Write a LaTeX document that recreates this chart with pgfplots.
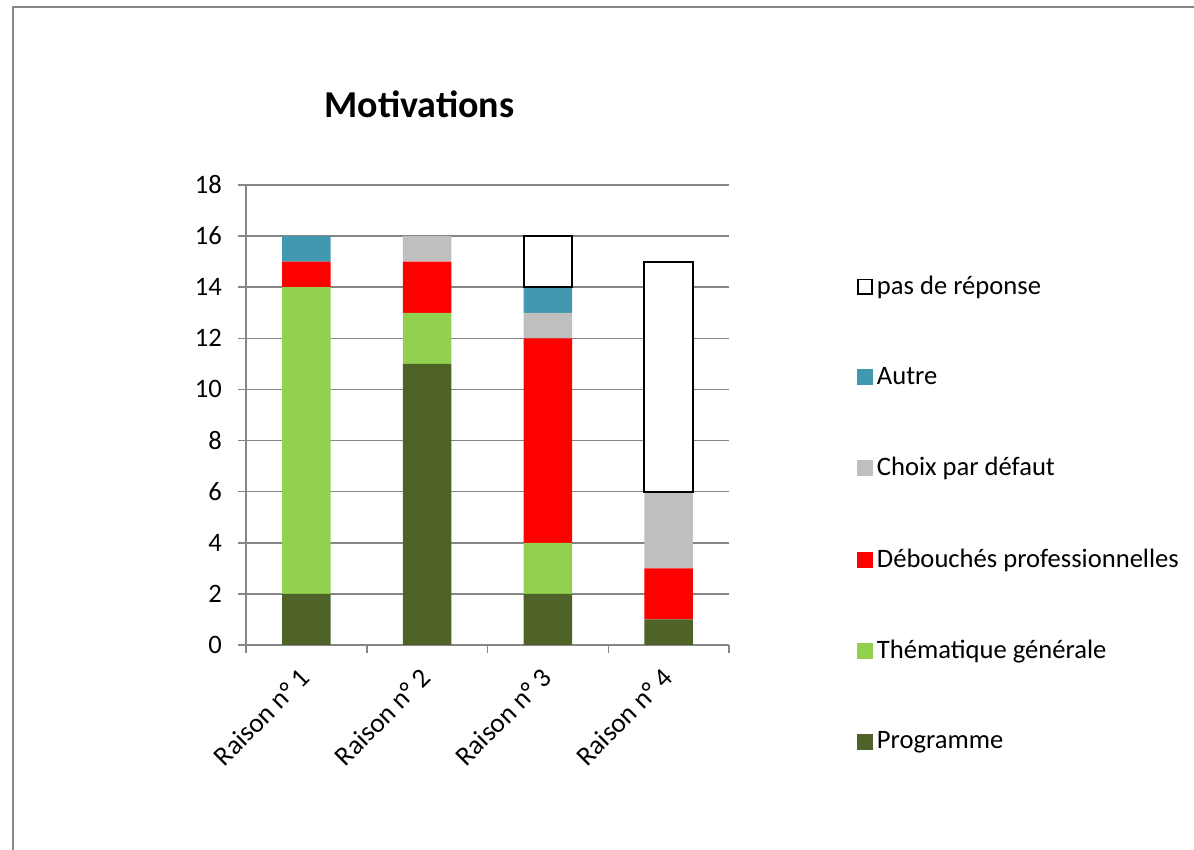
\documentclass[border=0pt]{standalone}
\usepackage{pgfplots}
\pgfplotsset{compat=1.18}
\usepackage{fontspec}
\setmainfont{Carlito}
\definecolor{prog}{HTML}{4F6228}
\definecolor{them}{HTML}{92D050}
\definecolor{debo}{HTML}{FF0000}
\definecolor{choix}{HTML}{BFBFBF}
\definecolor{autre}{HTML}{4198AF}
\definecolor{gridc}{HTML}{868686}
\begin{document}
\begin{tikzpicture}
\path[use as bounding box] (0,0) rectangle (597pt,425pt);
\draw[gridc, line width=0.75pt] (6.5pt,0) -- (6.5pt,421.5pt) -- (597pt,421.5pt);
\node[font=\fontsize{19}{22}\selectfont\bfseries] at (209.75pt,373pt) {Motivations};
\pgfplotsset{common/.style={at={(123pt,102.5pt)}, anchor=south west, scale only axis,
  width=241.5pt, height=230pt, xmin=-0.5, xmax=3.5, ymin=0, ymax=18,
  ybar stacked, bar width=24.15pt}}
\begin{axis}[common,
  every axis plot/.append style={legend image code/.code={\fill[#1] (0pt,-4pt) rectangle (8pt,4pt);}},
  axis x line*=bottom, axis y line*=left,
  axis line style={gridc, line width=0.75pt},
  ytick={0,2,...,18}, ymajorgrids, grid style={gridc, line width=0.75pt},
  tick align=outside, major tick length=4pt, tick style={gridc, line width=0.75pt},
  xtick={-0.5,0.5,1.5,2.5,3.5}, xticklabels={},
  extra x ticks={0,1,2,3},
  extra x tick labels={Raison n° 1,Raison n° 2,Raison n° 3,Raison n° 4},
  extra x tick style={major tick length=0pt, grid=none},
  xticklabel style={xshift=1.9pt, yshift=-11.8pt, rotate=45, anchor=east, font=\fontsize{13.6}{16}\selectfont},
  yticklabel style={font=\fontsize{13.3}{16}\selectfont, xshift=-4.5pt},
  /pgf/number format/assume math mode=true,
  legend style={at={(1.264,0.812)}, anchor=north west, draw=none, fill=none,
    font=\fontsize{13.3}{16}\selectfont, row sep=31pt, inner sep=0pt,
    /tikz/every even column/.append style={column sep=5.5pt}},
  legend cell align=left,
  reverse legend,
]
\addplot[fill=prog, draw=none] coordinates {(0,2) (1,11) (2,2) (3,1)};
\addlegendentry{Programme}
\addplot[fill=them, draw=none] coordinates {(0,12) (1,2) (2,2) (3,0)};
\addlegendentry{Thématique générale}
\addplot[fill=debo, draw=none] coordinates {(0,1) (1,2) (2,8) (3,2)};
\addlegendentry{Débouchés professionnelles}
\addplot[fill=choix, draw=none] coordinates {(0,0) (1,1) (2,1) (3,3)};
\addlegendentry{Choix par défaut}
\addplot[fill=autre, draw=none] coordinates {(0,1) (1,0) (2,1) (3,0)};
\addlegendentry{Autre}
\addplot[fill=white, draw=none, legend image code/.code={\draw[black, fill=white, line width=0.9pt] (0.45pt,-3.55pt) rectangle (7.55pt,3.55pt);}] coordinates {(0,0) (1,0) (2,2) (3,9)};
\addlegendentry{pas de réponse}
\end{axis}
\begin{axis}[common, hide axis]
\addplot[draw=none, fill=none] coordinates {(2,14) (3,6)};
\addplot[fill=white, draw=black, line width=1pt] coordinates {(2,2) (3,9)};
\end{axis}
\end{tikzpicture}
\end{document}
